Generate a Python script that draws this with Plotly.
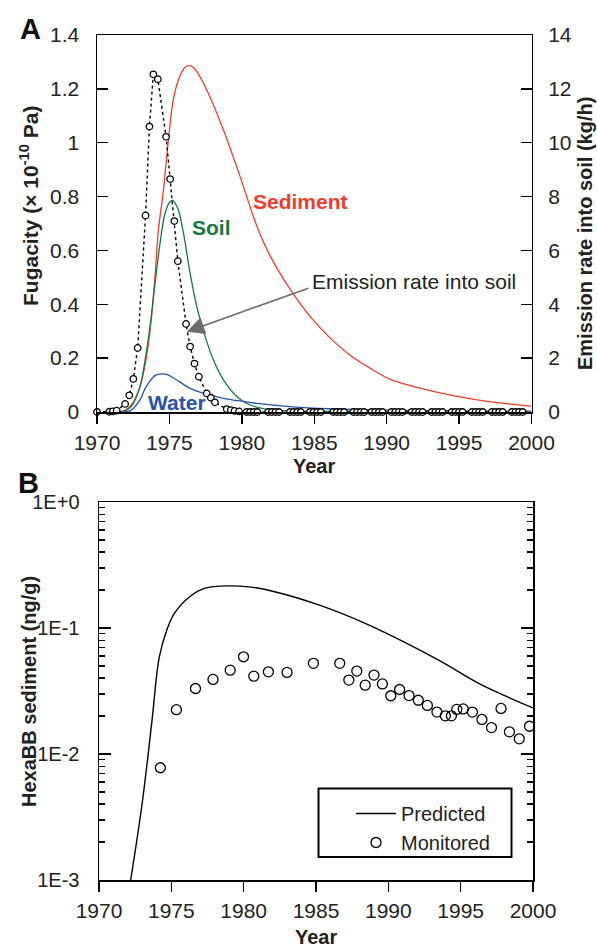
import plotly.graph_objects as go

W, H = 597, 948
FONT = "Liberation Sans, Arial, sans-serif"

# ---------------- Panel A data ----------------
sed_year = [1971.0, 1971.7, 1972.0, 1972.5, 1973.0, 1973.3, 1973.66, 1974.0, 1974.24, 1974.58,
            1974.93, 1975.27, 1975.62, 1976.0, 1976.27, 1976.6, 1976.89, 1977.58, 1978.73, 1979.88,
            1981.04, 1982.0, 1983.34, 1984.72, 1986.0, 1987.5, 1989.0, 1990.25, 1992.56, 1994.86,
            1997.17, 2000.0]
sed_fug = [0.0, 0.002, 0.008, 0.036, 0.10, 0.17, 0.30, 0.50, 0.676, 0.82,
           1.01, 1.16, 1.233, 1.275, 1.286, 1.282, 1.264, 1.196, 1.047, 0.874,
           0.690, 0.575, 0.455, 0.354, 0.28, 0.21, 0.158, 0.121, 0.085, 0.058,
           0.038, 0.022]

soil_year = [1971.5, 1971.82, 1972.2, 1972.51, 1972.97, 1973.32, 1973.66, 1974.01, 1974.35, 1974.7,
             1975.0, 1975.23, 1975.4, 1975.62, 1975.97, 1976.43, 1976.89, 1977.47, 1978.04, 1978.73,
             1979.66, 1980.58, 1981.73, 1983.3, 1986.0, 1990.0, 2000.0]
soil_fug = [0.0, 0.002, 0.012, 0.032, 0.094, 0.193, 0.317, 0.478, 0.626, 0.738,
            0.778, 0.786, 0.775, 0.75, 0.664, 0.515, 0.391, 0.28, 0.193, 0.119,
            0.057, 0.026, 0.010, 0.004, 0.002, 0.001, 0.0005]

water_year = [1971.6, 1972.28, 1972.97, 1973.3, 1973.66, 1974.0, 1974.24, 1974.82, 1975.1, 1975.51,
              1976.43, 1977.58, 1978.73, 1980.0, 1981.04, 1983.34, 1986.0, 1990.0, 1995.0, 2000.0]
water_fug = [0.0, 0.004, 0.045, 0.085, 0.115, 0.135, 0.14, 0.14, 0.132, 0.119,
             0.088, 0.066, 0.051, 0.040, 0.032, 0.020, 0.012, 0.007, 0.004, 0.003]

emis_year = [1970.0, 1970.85, 1971.09, 1971.36, 1971.94, 1972.23, 1972.51, 1972.81, 1973.35, 1973.62,
             1973.89, 1974.20, 1974.77, 1975.05, 1975.34, 1975.58, 1976.15, 1976.43, 1976.73, 1977.03,
             1977.58, 1977.86, 1978.14, 1978.96, 1979.24, 1979.49, 1979.81,
             1980.32, 1980.57, 1980.82, 1981.07,
             1981.82, 1982.07, 1982.32, 1982.57,
             1983.32, 1983.57, 1983.82, 1984.07,
             1984.70, 1984.95, 1985.20, 1985.45,
             1986.31, 1986.56, 1986.81, 1987.06,
             1987.70, 1987.95, 1988.20, 1988.45,
             1988.96, 1989.21, 1989.46, 1989.71,
             1990.34, 1990.59, 1990.84, 1991.09,
             1991.73, 1991.98, 1992.23, 1992.48,
             1993.11, 1993.36, 1993.61, 1993.86,
             1994.49, 1994.74, 1994.99, 1995.24,
             1995.88, 1996.13, 1996.38, 1996.63,
             1997.26, 1997.51, 1997.76, 1998.01,
             1998.64, 1998.89, 1999.14, 1999.39]
emis_rate = [0.0, 0.01, 0.02, 0.05, 0.30, 0.62, 1.23, 2.38, 7.30, 10.6,
             12.54, 12.36, 10.22, 8.65, 7.09, 5.60, 3.27, 2.43, 1.80, 1.31,
             0.69, 0.53, 0.36, 0.11, 0.07, 0.04, 0.02,
             0.0, 0.0, 0.0, 0.0,
             0.0, 0.0, 0.0, 0.0,
             0.0, 0.0, 0.0, 0.0,
             0.0, 0.0, 0.0, 0.0,
             0.0, 0.0, 0.0, 0.0,
             0.0, 0.0, 0.0, 0.0,
             0.0, 0.0, 0.0, 0.0,
             0.0, 0.0, 0.0, 0.0,
             0.0, 0.0, 0.0, 0.0,
             0.0, 0.0, 0.0, 0.0,
             0.0, 0.0, 0.0, 0.0,
             0.0, 0.0, 0.0, 0.0,
             0.0, 0.0, 0.0, 0.0,
             0.0, 0.0, 0.0, 0.0]

# ---------------- Panel B data ----------------
pred_year = [1972.19, 1972.98, 1973.64, 1974.17, 1974.69, 1975.22, 1976.27, 1977.33, 1978.91, 1980.49,
             1982.07, 1985.24, 1988.40, 1991.04, 1993.67, 1996.31, 2000.0]
pred_conc = [0.0010, 0.00403, 0.0174, 0.059, 0.0964, 0.131, 0.177, 0.207, 0.216, 0.211,
             0.195, 0.152, 0.109, 0.078, 0.054, 0.036, 0.0232]

mon_year = [1974.24, 1975.35, 1976.67, 1977.88, 1979.07, 1979.99, 1980.70, 1981.71, 1983.00, 1984.82,
            1986.64, 1987.27, 1987.82, 1988.40, 1989.01, 1989.59, 1990.17, 1990.78, 1991.43, 1992.07,
            1992.70, 1993.36, 1993.94, 1994.36, 1994.73, 1995.18, 1995.81, 1996.47, 1997.13, 1997.79,
            1998.37, 1999.05, 1999.76]
mon_conc = [0.00778, 0.0225, 0.0331, 0.0391, 0.0463, 0.0591, 0.0415, 0.0449, 0.0444, 0.0524,
            0.0524, 0.0386, 0.0455, 0.0352, 0.0423, 0.0360, 0.0290, 0.0325, 0.0291, 0.0267,
            0.0243, 0.0215, 0.0201, 0.0201, 0.0226, 0.0228, 0.0215, 0.0188, 0.0162, 0.0230,
            0.0150, 0.0132, 0.0166]

year_ticks = [1970, 1975, 1980, 1985, 1990, 1995, 2000]
fug_ticks = [0, 0.2, 0.4, 0.6, 0.8, 1.0, 1.2, 1.4]
fug_labels = ["0", "0.2", "0.4", "0.6", "0.8", "1", "1.2", "1.4"]
emis_ticks = [0, 2, 4, 6, 8, 10, 12, 14]
log_ticks = [0.001, 0.01, 0.1, 1]
log_labels = ["1E-3", "1E-2", "1E-1", "1E+0"]
log_minor = [m * d for d in (0.001, 0.01, 0.1) for m in range(2, 10)]

RED = "#ee3d2c"
GREEN = "#137a3f"
BLUE = "#2553a8"
TXT = "#222"
FS = 21

fig = go.Figure()

# Panel A traces
fig.add_trace(go.Scatter(x=sed_year, y=sed_fug, mode="lines", line=dict(color=RED, width=1.3),
                         xaxis="x", yaxis="y", showlegend=False, line_shape="spline"))
fig.add_trace(go.Scatter(x=soil_year, y=soil_fug, mode="lines", line=dict(color=GREEN, width=1.3),
                         xaxis="x", yaxis="y", showlegend=False, line_shape="spline"))
fig.add_trace(go.Scatter(x=water_year, y=water_fug, mode="lines", line=dict(color=BLUE, width=1.3),
                         xaxis="x", yaxis="y", showlegend=False, line_shape="spline"))
fig.add_trace(go.Scatter(x=emis_year, y=emis_rate, mode="lines+markers",
                         line=dict(color="black", width=1.4, dash="dot"),
                         marker=dict(symbol="circle", size=6.5, color="white",
                                     line=dict(color="black", width=1.3)),
                         xaxis="x", yaxis="y2", showlegend=False, cliponaxis=False))

# Panel B traces
fig.add_trace(go.Scatter(x=pred_year, y=pred_conc, mode="lines", name="Predicted",
                         line=dict(color="black", width=1.4, shape="spline"),
                         xaxis="x3", yaxis="y3"))
fig.add_trace(go.Scatter(x=mon_year, y=mon_conc, mode="markers", name="Monitored",
                         marker=dict(symbol="circle-open", size=10, color="black",
                                     line=dict(width=1.3)),
                         xaxis="x3", yaxis="y3", cliponaxis=False))

def px_x(p):
    return p / W

def px_y(p):
    return 1 - p / H

axis_common = dict(showgrid=False, zeroline=False, showline=True, linecolor="black", linewidth=1.5,
                   tickcolor="black", tickwidth=1.5, automargin=False)
tickf = dict(family=FONT, size=FS, color=TXT)

fig.update_layout(
    width=W, height=H, margin=dict(l=0, r=0, t=0, b=0, autoexpand=False),
    paper_bgcolor="white", plot_bgcolor="white",
    font=dict(family=FONT, color=TXT),
    xaxis=dict(domain=[px_x(97), px_x(531.5)], range=[1970, 2000], anchor="y",
               tickvals=year_ticks, ticks="outside", ticklen=10, mirror=True,
               ticklabelstandoff=1, tickfont=tickf, **axis_common),
    yaxis=dict(domain=[px_y(412), px_y(35)], range=[0, 1.4], anchor="x",
               tickvals=fug_ticks, ticktext=fug_labels, ticks="inside", ticklen=11,
               ticklabelstandoff=12, tickfont=tickf, **axis_common),
    yaxis2=dict(domain=[px_y(412), px_y(35)], range=[0, 14], anchor="x", overlaying="y",
                side="right", tickvals=emis_ticks, ticks="inside", ticklen=11,
                ticklabelstandoff=11, tickfont=tickf, **axis_common),
    xaxis3=dict(domain=[px_x(99), px_x(533)], range=[1970, 2000], anchor="y3",
                tickvals=year_ticks, ticks="outside", ticklen=10, mirror=True,
                ticklabelstandoff=1, tickfont=tickf, **axis_common),
    yaxis3=dict(domain=[px_y(880), px_y(502)], type="log", range=[-3, 0], anchor="x3",
                tickvals=log_ticks, ticktext=log_labels, ticks="inside", ticklen=12,
                mirror="ticks", ticklabelstandoff=14,
                tickfont=dict(family=FONT, size=20, color=TXT),
                minor=dict(tickvals=log_minor, ticks="inside", ticklen=6, tickwidth=1.3,
                           tickcolor="black", showgrid=False),
                **axis_common),
    showlegend=True,
    legend=dict(x=px_x(351), y=px_y(794), xanchor="left", yanchor="top",
                bgcolor="rgba(0,0,0,0)", borderwidth=0, itemwidth=40,
                font=dict(family=FONT, size=20, color=TXT), tracegroupgap=0),
)

# legend frame
fig.add_shape(type="rect", xref="paper", yref="paper",
              x0=px_x(318.5), x1=px_x(511.5), y0=px_y(857), y1=px_y(788.5),
              line=dict(color="black", width=2), fillcolor="rgba(0,0,0,0)", layer="above")

def note(text, x, y, size, color=TXT, angle=0, xref="paper", yref="paper"):
    return dict(text=text, x=x, y=y, xref=xref, yref=yref, showarrow=False,
                xanchor="center", yanchor="middle", textangle=angle,
                font=dict(family=FONT, size=size, color=color))

ann = [
    note("<b>A</b>", px_x(30), px_y(29), 29, "#111"),
    note("<b>B</b>", px_x(28), px_y(483), 29, "#111"),
    note("<b>Fugacity (× 10<sup>-10</sup> Pa)</b>", px_x(29), px_y(206), 21, angle=-90),
    note("<b>Emission rate into soil (kg/h)</b>", px_x(585), px_y(234), 20, angle=-90),
    note("<b>Year</b>", px_x(314), px_y(466), 20),
    note("<b>Year</b>", px_x(316), px_y(937), 20),
    note("<b>HexaBB sediment (ng/g)</b>", px_x(29), px_y(692), 20, angle=-90),
    note("<b>Sediment</b>", 1984.03, 0.78, 21, RED, xref="x", yref="y"),
    note("<b>Soil</b>", 1977.9, 0.687, 21, GREEN, xref="x", yref="y"),
    note("<b>Water</b>", 1975.5, 0.034, 21, BLUE, xref="x", yref="y"),
    note("Emission rate into soil", 1991.9, 0.485, 21, xref="x", yref="y"),
    dict(text="", x=1976.2, y=0.298, xref="x", yref="y",
         ax=1984.7, ay=0.462, axref="x", ayref="y", showarrow=True,
         arrowhead=2, arrowsize=2.2, arrowwidth=1.6, arrowcolor="#6b6c6e"),
]
fig.update_layout(annotations=ann)

fig.write_html("out.html", config={"displayModeBar": False, "staticPlot": True},
               post_script="document.body.style.margin='0px';document.body.style.overflow='hidden';")
